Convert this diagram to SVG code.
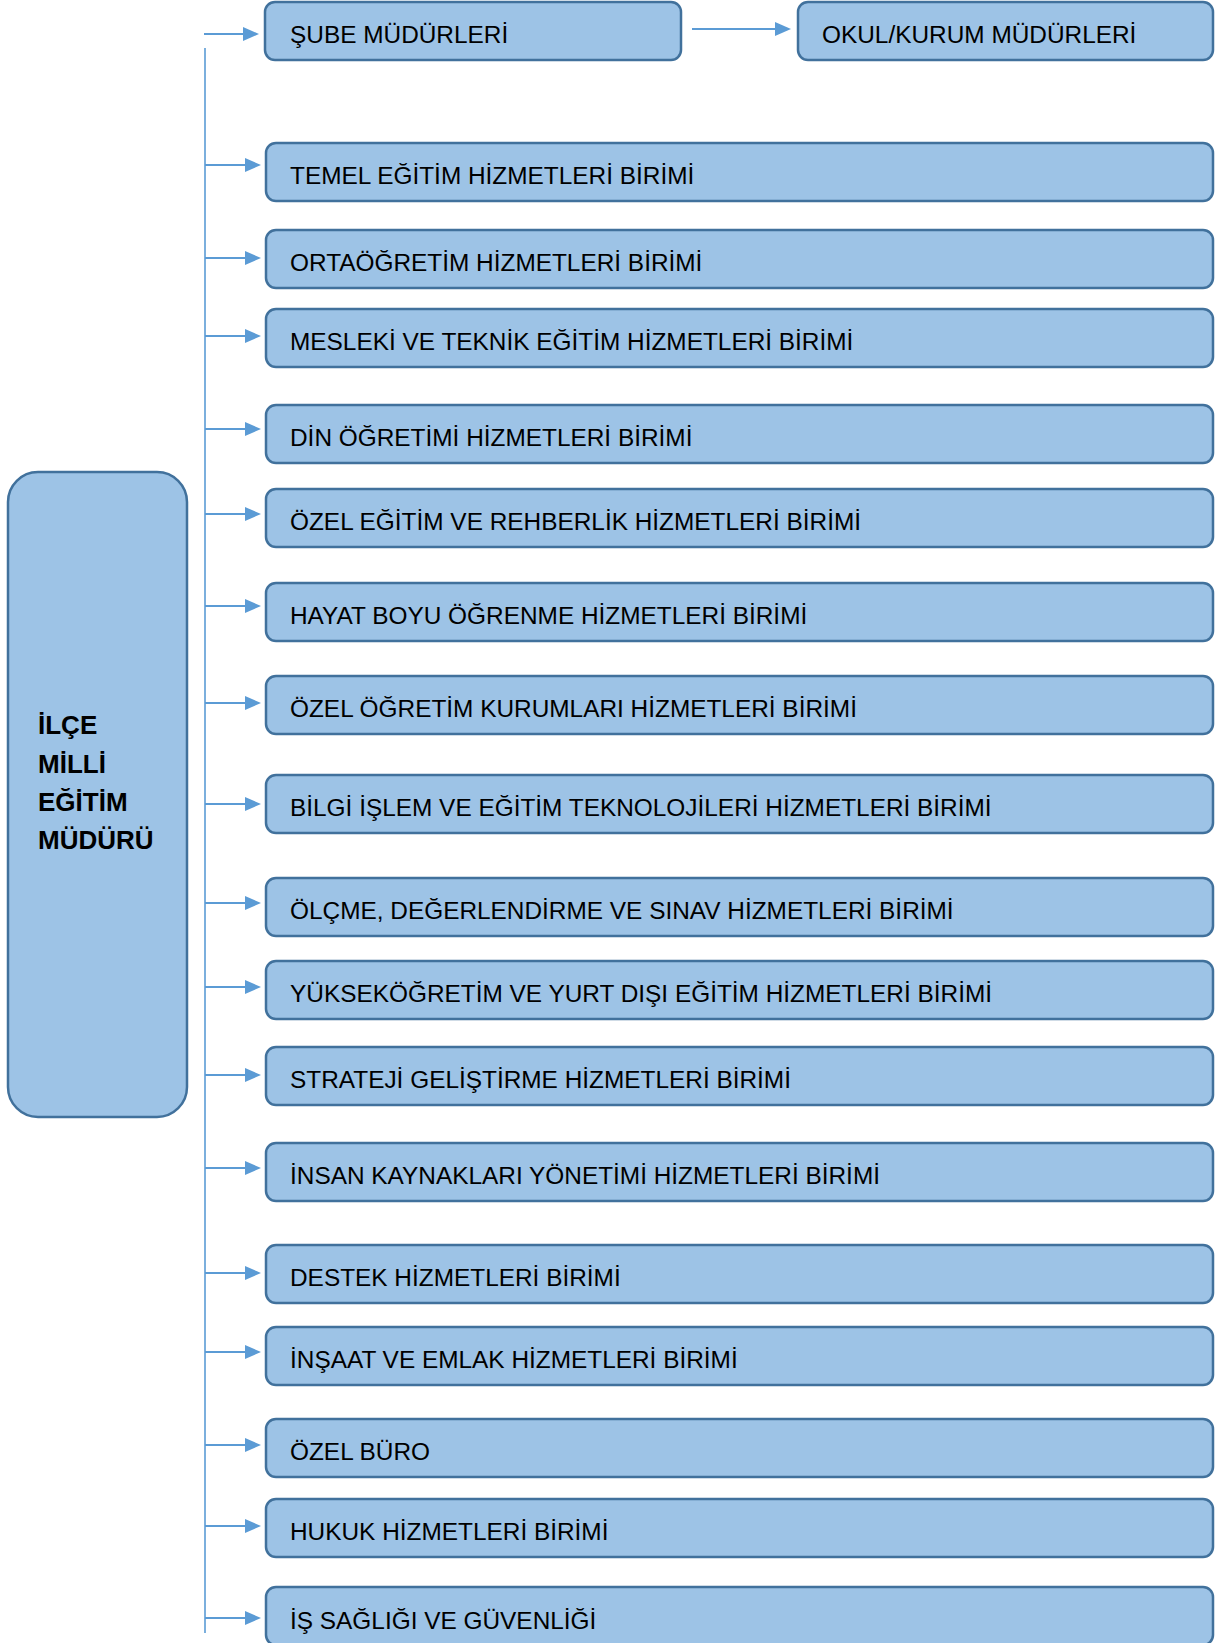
<svg xmlns="http://www.w3.org/2000/svg" width="1223" height="1643" viewBox="0 0 1223 1643">
<style>
.box{fill:#9DC3E6;stroke:#41719C;stroke-width:2.5}
.t{font-family:"Liberation Sans",Arial,sans-serif;font-size:24.4px;fill:#000}
.tb{font-family:"Liberation Sans",Arial,sans-serif;font-size:26px;font-weight:bold;fill:#000}
.c{stroke:#5B9BD5;stroke-width:2.2;fill:none}
.v{stroke:#5B9BD5;stroke-width:1.6;fill:none}
</style>
<defs>
<marker id="ah" markerWidth="16" markerHeight="14" refX="0" refY="7" orient="auto" markerUnits="userSpaceOnUse">
<path d="M0,0 L16,7 L0,14 z" fill="#5B9BD5"/>
</marker>
</defs>
<rect width="1223" height="1643" fill="#fff"/>
<g id="connectors">
<line class="v" x1="205" y1="48" x2="205" y2="1633"/>
<line class="c" x1="204" y1="34" x2="243" y2="34" marker-end="url(#ah)"/>
<line class="c" x1="692" y1="29" x2="775" y2="29" marker-end="url(#ah)"/>
<line class="c" x1="205" y1="165" x2="245" y2="165" marker-end="url(#ah)"/>
<line class="c" x1="205" y1="258" x2="245" y2="258" marker-end="url(#ah)"/>
<line class="c" x1="205" y1="336" x2="245" y2="336" marker-end="url(#ah)"/>
<line class="c" x1="205" y1="429" x2="245" y2="429" marker-end="url(#ah)"/>
<line class="c" x1="205" y1="514" x2="245" y2="514" marker-end="url(#ah)"/>
<line class="c" x1="205" y1="606" x2="245" y2="606" marker-end="url(#ah)"/>
<line class="c" x1="205" y1="703" x2="245" y2="703" marker-end="url(#ah)"/>
<line class="c" x1="205" y1="804" x2="245" y2="804" marker-end="url(#ah)"/>
<line class="c" x1="205" y1="903" x2="245" y2="903" marker-end="url(#ah)"/>
<line class="c" x1="205" y1="987" x2="245" y2="987" marker-end="url(#ah)"/>
<line class="c" x1="205" y1="1075" x2="245" y2="1075" marker-end="url(#ah)"/>
<line class="c" x1="205" y1="1168" x2="245" y2="1168" marker-end="url(#ah)"/>
<line class="c" x1="205" y1="1273" x2="245" y2="1273" marker-end="url(#ah)"/>
<line class="c" x1="205" y1="1352" x2="245" y2="1352" marker-end="url(#ah)"/>
<line class="c" x1="205" y1="1445" x2="245" y2="1445" marker-end="url(#ah)"/>
<line class="c" x1="205" y1="1526" x2="245" y2="1526" marker-end="url(#ah)"/>
<line class="c" x1="205" y1="1618" x2="245" y2="1618" marker-end="url(#ah)"/>
</g>
<g id="mudur">
<rect class="box" x="8" y="472" width="179" height="645" rx="30"/>
<text class="tb" x="38" y="734">İLÇE</text>
<text class="tb" x="38" y="773">MİLLİ</text>
<text class="tb" x="38" y="811">EĞİTİM</text>
<text class="tb" x="38" y="849">MÜDÜRÜ</text>
</g>
<g id="sube"><rect class="box" x="265" y="2" width="416" height="58" rx="10"/><text class="t" x="290" y="43">ŞUBE MÜDÜRLERİ</text></g>
<g id="okul"><rect class="box" x="798" y="2" width="415" height="58" rx="10"/><text class="t" x="822" y="43">OKUL/KURUM MÜDÜRLERİ</text></g>
<g id="temel"><rect class="box" x="266" y="143" width="947" height="58" rx="10"/><text class="t" x="290" y="184">TEMEL EĞİTİM HİZMETLERİ BİRİMİ</text></g>
<g id="orta"><rect class="box" x="266" y="230" width="947" height="58" rx="10"/><text class="t" x="290" y="271">ORTAÖĞRETİM HİZMETLERİ BİRİMİ</text></g>
<g id="mesleki"><rect class="box" x="266" y="309" width="947" height="58" rx="10"/><text class="t" x="290" y="350">MESLEKİ VE TEKNİK EĞİTİM HİZMETLERİ BİRİMİ</text></g>
<g id="din"><rect class="box" x="266" y="405" width="947" height="58" rx="10"/><text class="t" x="290" y="446">DİN ÖĞRETİMİ HİZMETLERİ BİRİMİ</text></g>
<g id="ozel-egitim"><rect class="box" x="266" y="489" width="947" height="58" rx="10"/><text class="t" x="290" y="530">ÖZEL EĞİTİM VE REHBERLİK HİZMETLERİ BİRİMİ</text></g>
<g id="hayat"><rect class="box" x="266" y="583" width="947" height="58" rx="10"/><text class="t" x="290" y="624">HAYAT BOYU ÖĞRENME HİZMETLERİ BİRİMİ</text></g>
<g id="ozel-ogretim"><rect class="box" x="266" y="676" width="947" height="58" rx="10"/><text class="t" x="290" y="717">ÖZEL ÖĞRETİM KURUMLARI HİZMETLERİ BİRİMİ</text></g>
<g id="bilgi"><rect class="box" x="266" y="775" width="947" height="58" rx="10"/><text class="t" x="290" y="816">BİLGİ İŞLEM VE EĞİTİM TEKNOLOJİLERİ HİZMETLERİ BİRİMİ</text></g>
<g id="olcme"><rect class="box" x="266" y="878" width="947" height="58" rx="10"/><text class="t" x="290" y="919">ÖLÇME, DEĞERLENDİRME VE SINAV HİZMETLERİ BİRİMİ</text></g>
<g id="yuksek"><rect class="box" x="266" y="961" width="947" height="58" rx="10"/><text class="t" x="290" y="1002">YÜKSEKÖĞRETİM VE YURT DIŞI EĞİTİM HİZMETLERİ BİRİMİ</text></g>
<g id="strateji"><rect class="box" x="266" y="1047" width="947" height="58" rx="10"/><text class="t" x="290" y="1088">STRATEJİ GELİŞTİRME HİZMETLERİ BİRİMİ</text></g>
<g id="insan"><rect class="box" x="266" y="1143" width="947" height="58" rx="10"/><text class="t" x="290" y="1184">İNSAN KAYNAKLARI YÖNETİMİ HİZMETLERİ BİRİMİ</text></g>
<g id="destek"><rect class="box" x="266" y="1245" width="947" height="58" rx="10"/><text class="t" x="290" y="1286">DESTEK HİZMETLERİ BİRİMİ</text></g>
<g id="insaat"><rect class="box" x="266" y="1327" width="947" height="58" rx="10"/><text class="t" x="290" y="1368">İNŞAAT VE EMLAK HİZMETLERİ BİRİMİ</text></g>
<g id="buro"><rect class="box" x="266" y="1419" width="947" height="58" rx="10"/><text class="t" x="290" y="1460">ÖZEL BÜRO</text></g>
<g id="hukuk"><rect class="box" x="266" y="1499" width="947" height="58" rx="10"/><text class="t" x="290" y="1540">HUKUK HİZMETLERİ BİRİMİ</text></g>
<g id="is"><rect class="box" x="266" y="1587" width="947" height="58" rx="10"/><text class="t" x="290" y="1629">İŞ SAĞLIĞI VE GÜVENLİĞİ</text></g>
</svg>
